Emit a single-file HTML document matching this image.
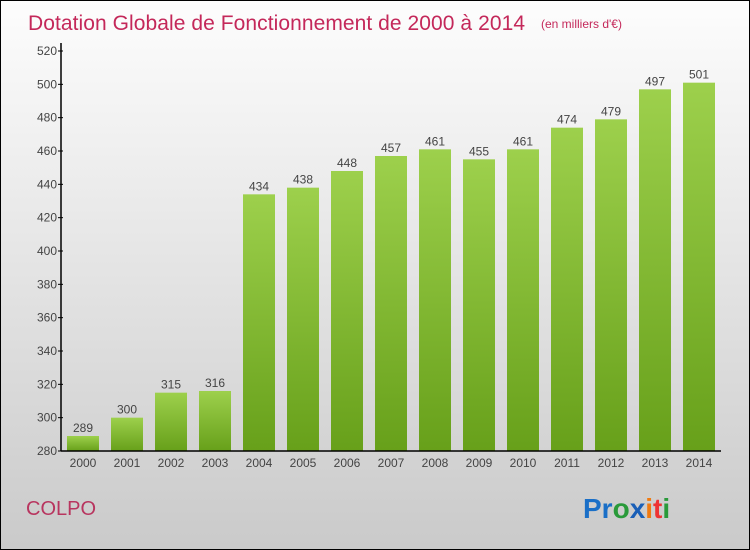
<!DOCTYPE html>
<html><head><meta charset="utf-8"><style>
body{margin:0}
#wrap{width:750px;height:550px;position:relative;box-sizing:border-box;border:1px solid #000;background:linear-gradient(#fdfdfd,#cacaca);overflow:hidden;font-family:"Liberation Sans",sans-serif}
svg{position:absolute;left:0;top:0}
</style></head><body>
<div id="wrap">
<svg width="750" height="550" id="chart">
<defs><linearGradient id="g" x1="0" y1="0" x2="0" y2="1"><stop offset="0" stop-color="#9dd04c"/><stop offset="1" stop-color="#67a01a"/></linearGradient></defs>
<text x="27" y="29" font-size="21" fill="#c4285a" textLength="497">Dotation Globale de Fonctionnement de 2000 à 2014</text>
<text x="540" y="27" font-size="12" fill="#c4285a">(en milliers d'€)</text>
<text x="25" y="514" font-size="20" fill="#b8355f">COLPO</text>
<text x="582" y="517" font-size="28" font-weight="bold"><tspan fill="#1a6fc7">Pr</tspan><tspan fill="#2a9a3a">o</tspan><tspan fill="#1a5fb7">x</tspan><tspan fill="#f07a10">i</tspan><tspan fill="#e33">t</tspan><tspan fill="#2a9a3a">i</tspan></text>
<g id="bars"></g><g id="axes"></g>
</svg></div>
<script>
const years=["2000","2001","2002","2003","2004","2005","2006","2007","2008","2009","2010","2011","2012","2013","2014"];
const values=[289,300,315,316,434,438,448,457,461,455,461,474,479,497,501];
const yTicks=[280,300,320,340,360,380,400,420,440,460,480,500,520];
const NS="http://www.w3.org/2000/svg";
const y0=450,y1=50,vmin=280,vmax=520,x0=60,step=44;
const ys=v=>y0-(v-vmin)*(y0-y1)/(vmax-vmin);
const xs=i=>x0+22+i*step;
const bars=document.getElementById('bars'),axes=document.getElementById('axes');
function mk(t,a,p){const e=document.createElementNS(NS,t);for(const k in a)e.setAttribute(k,a[k]);p.appendChild(e);return e;}
values.forEach((v,i)=>{
 const r=mk('rect',{x:xs(i)-16,y:ys(v),width:32,height:y0-ys(v),fill:'url(#g)'},bars);
 
 
 const t=mk('text',{x:xs(i),y:ys(v)-4,'text-anchor':'middle','font-size':12,fill:'#444'},bars);
 t.textContent=v;
 
 
 const xl=mk('text',{x:xs(i),y:466,'text-anchor':'middle','font-size':12,fill:'#444'},axes);
 xl.textContent=years[i];
 
 
});
const ya=mk('line',{x1:x0,y1:y1-8,x2:x0,y2:y0,stroke:'#000','stroke-width':1.5},axes);


const xa=mk('line',{x1:x0,y1:y0,x2:720,y2:y0,stroke:'#000','stroke-width':1.5},axes);


yTicks.forEach(v=>{
 mk('line',{x1:x0-3,y1:ys(v),x2:x0+2,y2:ys(v),stroke:'#000'},axes);
 const t=mk('text',{x:x0-4,y:ys(v)+4,'text-anchor':'end','font-size':12,fill:'#444'},axes);
 t.textContent=v;
 
 
});
</script>
</body></html>
